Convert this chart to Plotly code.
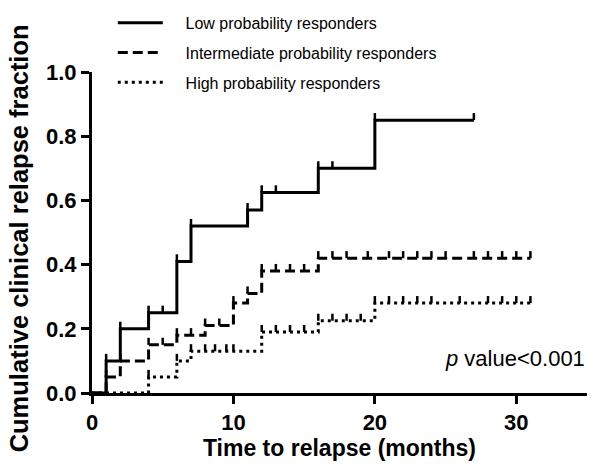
import plotly.graph_objects as go

# ---- data ----
series_names = ["Low probability responders",
                "Intermediate probability responders",
                "High probability responders"]

low_times = [1, 2, 4, 6, 7, 11, 12, 16, 20]
low_vals = [0.10, 0.20, 0.25, 0.41, 0.52, 0.57, 0.625, 0.70, 0.85]
low_end = 27
low_censor = [1, 2, 4, 5, 6, 7, 11, 12, 13, 16, 17, 20, 27]

int_times = [1, 2, 4, 6, 8, 10, 11, 12, 16]
int_vals = [0.05, 0.10, 0.15, 0.18, 0.21, 0.28, 0.31, 0.38, 0.42]
int_end = 31
int_censor = [1, 2, 4, 5, 6, 7, 8, 9, 10, 11, 12, 13, 14, 15, 16, 17, 18, 19.5,
              21, 22, 23, 24, 25, 27, 28, 29, 30, 31]

high_times = [4, 6, 7, 12, 16, 20]
high_vals = [0.05, 0.10, 0.13, 0.19, 0.225, 0.28]
high_end = 31
high_censor = [4, 6, 7, 8, 8.7, 9.5, 10, 12, 13, 14, 15, 16, 17, 18, 19, 20,
               21, 22, 23, 24, 26, 28, 29, 30, 31]

x_ticks = [0, 10, 20, 30]
y_ticks = [0.0, 0.2, 0.4, 0.6, 0.8, 1.0]

x_title = "Time to relapse (months)"
y_title = "Cumulative clinical relapse fraction"
p_text = "<i>p</i> value<0.001"

styles = [dict(dash="solid"), dict(dash="10px,5px"), dict(dash="3px,4px")]
TICK_H = 0.022
PAD = "\u00a0" * 4

def step_value(times, vals, t):
    v = 0.0
    for ti, vi in zip(times, vals):
        if ti <= t:
            v = vi
    return v

fig = go.Figure()
datasets = [(low_times, low_vals, low_end, low_censor),
            (int_times, int_vals, int_end, int_censor),
            (high_times, high_vals, high_end, high_censor)]

for i, (name, (tt, vv, end, cens), st) in enumerate(zip(series_names, datasets, styles)):
    xs = [0] + tt + [end]
    ys = [0] + vv + [vv[-1]]
    fig.add_trace(go.Scatter(
        x=xs, y=ys, mode="lines", name=PAD + name, line_shape="hv",
        line=dict(color="black", width=3, dash=st["dash"]),
        legendgroup=f"g{i}", cliponaxis=False))
    cx, cy = [], []
    for t in cens:
        v = step_value(tt, vv, t)
        cx += [t, t, None]
        cy += [v, v + TICK_H, None]
    fig.add_trace(go.Scatter(
        x=cx, y=cy, mode="lines", showlegend=False, legendgroup=f"g{i}",
        line=dict(color="black", width=2.5), cliponaxis=False, hoverinfo="skip"))

axis_common = dict(showline=True, linecolor="black", linewidth=3,
                   ticks="outside", ticklen=8, tickwidth=3, tickcolor="black",
                   showgrid=False, zeroline=False,
                   tickfont=dict(family="Liberation Sans", size=22, color="black", weight="bold"))

fig.update_layout(
    width=593, height=464,
    margin=dict(l=92, r=6, t=65, b=71),
    paper_bgcolor="white", plot_bgcolor="white",
    font=dict(family="Liberation Sans", color="black"),
    xaxis=dict(range=[0, 35], tickvals=x_ticks,
               title=dict(text=f"<b>{x_title}</b>", font=dict(size=23), standoff=4),
               **axis_common),
    yaxis=dict(range=[0, 1], tickvals=y_ticks, tickformat=".1f", **axis_common),
    legend=dict(x=0.042, y=1.206, xanchor="left", yanchor="top",
                font=dict(size=16, color="black"), itemwidth=45,
                tracegroupgap=6, traceorder="grouped",
                bgcolor="rgba(0,0,0,0)"),
    showlegend=True,
)

# y-axis title (as annotation for exact placement)
fig.add_annotation(text=f"<b>{y_title}</b>", xref="paper", yref="paper",
                   x=(19 - 92) / 495, y=(393 - 235) / 328, xanchor="center", yanchor="middle",
                   textangle=-90, showarrow=False, font=dict(size=25.5, color="black"))

fig.add_annotation(text=p_text, xref="paper", yref="paper",
                   x=1.0, y=(393 - 358) / 328, xanchor="right", yanchor="middle",
                   showarrow=False, font=dict(size=22, color="black"))

# remove the default 8px page margin so the figure fills the window exactly
fig.write_html("out.html", config={"displayModeBar": False},
               post_script="document.body.style.margin='0';")
